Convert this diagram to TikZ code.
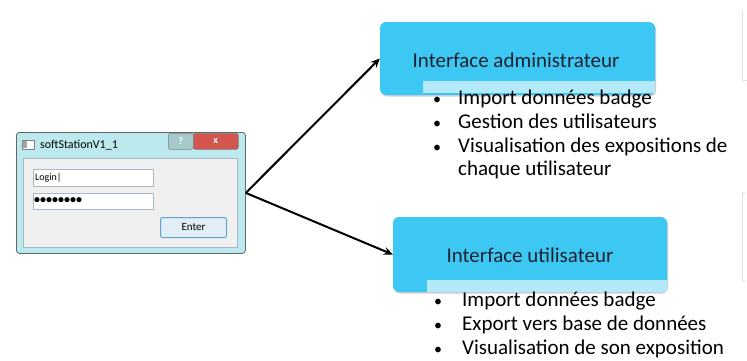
\documentclass[tikz,border=0pt]{standalone}
\usepackage{fontspec}
\setmainfont{Carlito}
\usetikzlibrary{arrows.meta}
\definecolor{boxblue}{HTML}{3DC8F4}
\definecolor{striplt}{HTML}{B4E9F9}
\definecolor{txtdark}{HTML}{1E2230}
\definecolor{framecy}{HTML}{BCE9EE}
\definecolor{clientgr}{HTML}{F0F0F0}
\definecolor{fieldbd}{HTML}{A9B8C6}
\definecolor{helpbt}{HTML}{A6C9CC}
\definecolor{closebt}{HTML}{D2564C}
\definecolor{enterbg}{HTML}{E2EEF7}
\definecolor{enterbd}{HTML}{5FA3CF}
\definecolor{fraggr}{HTML}{E2E2E2}
\tikzset{
  x=1pt,y=-1pt,
  mainbox/.style={rectangle,rounded corners=6pt,fill=boxblue,draw=none,inner sep=0pt},
  boxtitle/.style={font=\fontsize{21}{23}\selectfont,text=txtdark,inner sep=0pt},
  bul/.style={font=\fontsize{21}{23}\selectfont,text=black,inner sep=0pt,anchor=base west},
  dot/.style={font=\fontsize{16}{18}\selectfont,text=black,inner sep=0pt,anchor=base},
  conn/.style={line width=2pt,-{Stealth[length=9pt,width=8pt]}},
  uitxt/.style={font=\fontsize{10}{12}\selectfont,text=black,inner sep=0pt},
  field/.style={rectangle,fill=white,draw=fieldbd,line width=0.6pt,inner sep=0pt,anchor=north west},
}
\begin{document}
\begin{tikzpicture}
\useasboundingbox (0,0) rectangle (747,360);
% ---- dialog window ----
\node[rectangle,rounded corners=3pt,fill=framecy,draw=black!60,line width=0.8pt,
      minimum width=229pt,minimum height=121pt,inner sep=0pt,anchor=north west] (dlg) at (16,132) {};
\node[rectangle,fill=clientgr,draw=fieldbd,line width=0.6pt,minimum width=214pt,minimum height=89pt,
      inner sep=0pt,anchor=north west] (client) at (23,158) {};
\node[rectangle,fill=white,draw=gray,line width=0.5pt,minimum width=12pt,minimum height=9pt,
      inner sep=0pt,anchor=north west] (icon) at (22,140) {};
\node[rectangle,fill=gray!70,minimum width=4pt,minimum height=7pt,inner sep=0pt,anchor=north west] (iconin) at (23,141) {};
\node[font=\fontsize{12}{14}\selectfont,inner sep=0pt,anchor=west] (title) at (40,145) {softStationV1\_1};
\node[rectangle,rounded corners=2pt,fill=helpbt,draw=gray,line width=0.5pt,minimum width=25pt,minimum height=16pt,
      inner sep=0pt,anchor=north west,font=\fontsize{10}{12}\selectfont\bfseries,text=white] (help) at (168,133) {?};
\node[rectangle,rounded corners=2pt,fill=closebt,draw=gray,line width=0.5pt,minimum width=45pt,minimum height=16pt,
      inner sep=0pt,anchor=north west,font=\fontsize{10}{12}\selectfont\bfseries,text=white] (close) at (193,133) {x};
\node[field,minimum width=120pt,minimum height=17pt] (login) at (33,169) {};
\node[uitxt,anchor=west] (logintxt) at (35,177.5) {Login|};
\node[field,minimum width=120pt,minimum height=16pt] (pwd) at (33,193) {};
\node[anchor=west,inner sep=0pt,font=\fontsize{12}{14}\selectfont\bfseries] (pwdtxt) at (34,201) {\char"2022\char"2022\char"2022\char"2022\char"2022\char"2022\char"2022\char"2022};
\node[rectangle,rounded corners=2pt,fill=enterbg,draw=enterbd,line width=1pt,minimum width=66pt,minimum height=20pt,
      inner sep=0pt,anchor=north west,font=\fontsize{11}{13}\selectfont] (enter) at (160,217) {Enter};
% ---- right-hand fragments ----
\coordinate (fa) at (742,10);
\coordinate (fb) at (742,80);
\coordinate (fc) at (747,80);
\draw[fraggr,line width=1pt] (fa) -- (fb) -- (fc);
\coordinate (fd) at (745,192);
\coordinate (fe) at (742,192);
\coordinate (ff) at (742,280);
\coordinate (fg) at (745,280);
\draw[fraggr,line width=1pt] (fd) -- (fe) -- (ff) -- (fg);
% ---- admin box ----
\node[rectangle,rounded corners=6pt,fill=black!18,minimum width=275pt,minimum height=73pt,inner sep=0pt] (admsh) at (518.5,60) {};
\node[mainbox,minimum width=275pt,minimum height=73pt] (adm) at (517.5,58.5) {};
\node[rectangle,fill=striplt,minimum width=232pt,minimum height=12pt,inner sep=0pt,anchor=north west] (admstrip) at (423,81) {};
\node[boxtitle] (admtitle) at (516,60) {Interface administrateur};
\node[dot] (ad1) at (437,104) {\char"2022};
\node[bul] (a1) at (458,104) {Import données badge};
\node[dot] (ad2) at (437,128) {\char"2022};
\node[bul] (a2) at (458,128) {Gestion des utilisateurs};
\node[dot] (ad3) at (437,152) {\char"2022};
\node[bul] (a3) at (458,152) {Visualisation des expositions de};
\node[bul] (a4) at (458,175) {chaque utilisateur};
% ---- user box ----
\node[rectangle,rounded corners=6pt,fill=black!18,minimum width=274pt,minimum height=75pt,inner sep=0pt] (usrsh) at (531,256) {};
\node[mainbox,minimum width=274pt,minimum height=75pt] (usr) at (530,254.5) {};
\node[rectangle,fill=striplt,minimum width=240pt,minimum height=12pt,inner sep=0pt,anchor=north west] (usrstrip) at (427,280) {};
\node[boxtitle] (usrtitle) at (530,255) {Interface utilisateur};
\node[dot] (ud1) at (438,306) {\char"2022};
\node[bul] (u1) at (462,306) {Import données badge};
\node[dot] (ud2) at (438,330) {\char"2022};
\node[bul] (u2) at (462,330) {Export vers base de données};
\node[dot] (ud3) at (438,354) {\char"2022};
\node[bul] (u3) at (462,354) {Visualisation de son exposition};
% ---- connectors ----
\draw[conn] (dlg.east) -- (adm.west);
\draw[conn] (dlg.east) -- (usr.west);
\end{tikzpicture}
\end{document}
